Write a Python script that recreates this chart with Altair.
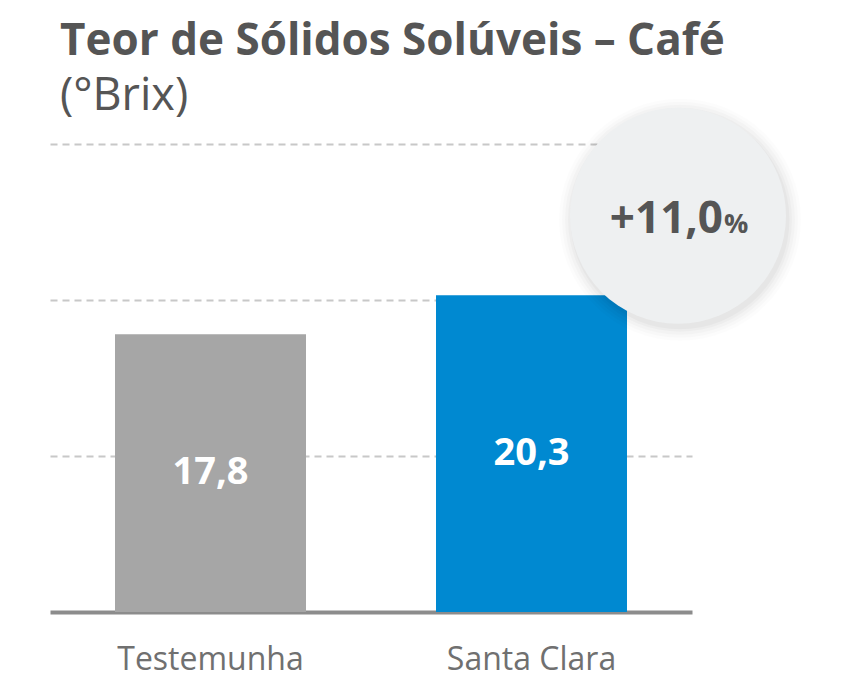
import altair as alt
import pandas as pd

FONT = "Open Sans"

categories = ["Testemunha", "Santa Clara"]
values = [17.8, 20.3]
value_labels = ["17,8", "20,3"]
bar_colors = ["#a6a6a6", "#0089d1"]

gain_number = "+11,0"
gain_unit = "%"
gain_category = "Santa Clara"
gain_level = 25.4

grid_values = [10, 20, 30]

df = pd.DataFrame({
    "cat": categories,
    "val": values,
    "lab": value_labels,
    "mid": [v / 2 for v in values],
})
badge = pd.DataFrame({"cat": [gain_category], "y": [gain_level],
                      "num": [gain_number], "unit": [gain_unit]})

x_enc = alt.X(
    "cat:N", sort=categories,
    scale=alt.Scale(paddingInner=0.405, paddingOuter=0.2025),
    axis=alt.Axis(title=None, labelAngle=0, labelFontSize=32, labelColor="#707070",
                  labelFont=FONT, labelPadding=32, labelLimit=400, ticks=False,
                  domainColor="#8c8c8c", domainWidth=4, grid=False),
)
y_enc = alt.Y(
    "val:Q", scale=alt.Scale(domain=[0, 30], nice=False),
    axis=alt.Axis(title=None, labels=False, ticks=False, domain=False, values=grid_values,
                  grid=True, gridColor="#c8c8c8", gridDash=[7, 5], gridWidth=2),
)

bars = alt.Chart(df).mark_bar().encode(
    x=x_enc, y=y_enc,
    color=alt.Color("cat:N", scale=alt.Scale(domain=categories, range=bar_colors), legend=None),
)
bar_text = alt.Chart(df).mark_text(color="white", fontSize=38, fontWeight="bold", font=FONT,
                                   baseline="middle").encode(
    x=alt.X("cat:N", sort=categories), y=alt.Y("mid:Q"), text="lab:N")

D = 216
OFF = 146.5
layers = [bars, bar_text]
for extra, op in [(26, 0.01), (20, 0.014), (14, 0.018), (8, 0.022), (3, 0.026)]:
    layers.append(alt.Chart(badge).mark_circle(color="black", opacity=op, xOffset=OFF + 2, yOffset=4,
                                               size=(D + extra) ** 2).encode(
        x=alt.X("cat:N", sort=categories), y=alt.Y("y:Q")))
layers.append(alt.Chart(badge).mark_circle(color="#eef0f1", opacity=1, xOffset=OFF,
                                           size=D ** 2).encode(
    x=alt.X("cat:N", sort=categories), y=alt.Y("y:Q")))
layers.append(alt.Chart(badge).mark_text(font=FONT, fontSize=44, fontWeight="bold", color="#555555",
                                         align="right", baseline="alphabetic", dx=OFF + 45, dy=17).encode(
    x=alt.X("cat:N", sort=categories), y=alt.Y("y:Q"), text="num:N"))
layers.append(alt.Chart(badge).mark_text(font=FONT, fontSize=27, fontWeight="bold", color="#555555",
                                         align="left", baseline="alphabetic", dx=OFF + 46, dy=17).encode(
    x=alt.X("cat:N", sort=categories), y=alt.Y("y:Q"), text="unit:N"))

chart = alt.layer(*layers).properties(
    width=642, height=468,
    padding={"left": 42, "top": 136, "right": 150, "bottom": 70},
    autosize=alt.AutoSizeParams(type="none"),
    title=alt.TitleParams(
        text="Teor de Sólidos Solúveis – Café", subtitle="(°Brix)", anchor="start",
        font=FONT, fontSize=44, fontWeight="bold", color="#555555",
        subtitleFont=FONT, subtitleFontSize=45, subtitleColor="#555555",
        subtitleFontWeight="normal", subtitlePadding=10, dx=10, offset=-20, frame="group",
    ),
).configure_view(stroke=None)

chart.save("out.html", embed_options={"renderer": "svg", "actions": False})
